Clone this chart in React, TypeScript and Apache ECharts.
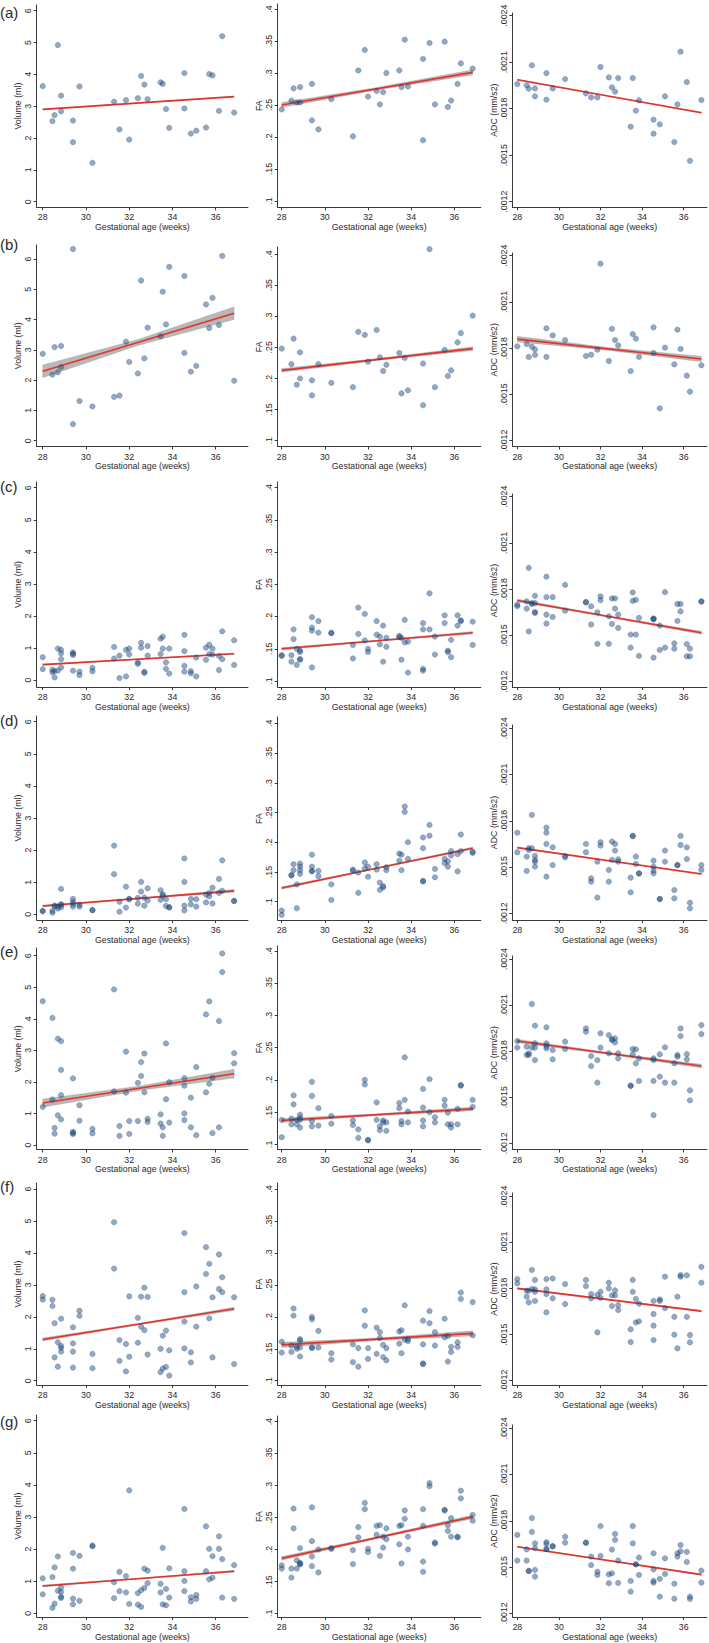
import React, { useEffect, useRef } from "react";
import * as echarts from "echarts";

// ---------- DATA ----------
// gestational ages (weeks) of the 32 subjects, shared by all panels
const ages = [28.0, 28.45, 28.55, 28.7, 28.85, 28.85, 29.4, 29.4, 29.7, 30.3, 31.3, 31.55, 31.85, 32.0, 32.4, 32.55, 32.7, 32.85, 33.45, 33.55, 33.7, 33.85, 34.55, 34.55, 34.85, 35.1, 35.55, 35.7, 35.85, 36.15, 36.3, 36.85];

const xTicks = [28, 30, 32, 34, 36];
const volTicks = [0, 1, 2, 3, 4, 5, 6];
const faTicks = [0.1, 0.15, 0.2, 0.25, 0.3, 0.35, 0.4];
const adcTicks = [0.0012, 0.0015, 0.0018, 0.0021, 0.0024];
const rowLetters = ["(a)", "(b)", "(c)", "(d)", "(e)", "(f)", "(g)"];
const xTitle = "Gestational age (weeks)";
const yTitles = { vol: "Volume (ml)", fa: "FA", adc: "ADC (mm/s2)" };

// rows (a), (b): one value per subject
const volA = [3.63, 2.53, 2.72, 4.92, 3.33, 2.84, 2.55, 1.87, 3.62, 1.22, 3.14, 2.27, 3.19, 1.95, 3.25, 3.95, 3.68, 3.22, 3.75, 3.70, 2.91, 2.32, 4.04, 2.93, 2.14, 2.23, 2.33, 4.01, 3.97, 2.85, 5.20, 2.80];
const faA = [0.243, 0.257, 0.276, 0.254, 0.254, 0.278, 0.283, 0.226, 0.212, 0.259, 0.201, 0.304, 0.336, 0.263, 0.272, 0.251, 0.270, 0.300, 0.304, 0.278, 0.352, 0.279, 0.322, 0.195, 0.347, 0.251, 0.349, 0.247, 0.257, 0.283, 0.315, 0.307];
const adcA = [0.001959, 0.001951, 0.001929, 0.002080, 0.001880, 0.001931, 0.002030, 0.001858, 0.001931, 0.001991, 0.001899, 0.001873, 0.001873, 0.002069, 0.002002, 0.001938, 0.001910, 0.001998, 0.001684, 0.001998, 0.001787, 0.001854, 0.001729, 0.001639, 0.001699, 0.001880, 0.001585, 0.001828, 0.002168, 0.001972, 0.001464, 0.001856];

const volB = [2.87, 2.18, 3.09, 2.26, 3.13, 2.43, 6.33, 0.55, 1.31, 1.13, 1.45, 1.49, 3.27, 2.60, 2.22, 5.29, 2.72, 3.73, 3.45, 4.92, 3.84, 5.74, 5.44, 2.90, 2.28, 2.47, 4.50, 3.72, 4.72, 3.82, 6.10, 1.98];
const faB = [0.248, 0.223, 0.264, 0.190, 0.200, 0.242, 0.197, 0.173, 0.223, 0.193, 0.186, 0.275, 0.270, 0.227, 0.278, 0.234, 0.212, 0.222, 0.241, 0.176, 0.233, 0.181, 0.224, 0.157, 0.408, 0.186, 0.246, 0.204, 0.213, 0.258, 0.273, 0.301];
const adcB = [0.001812, 0.001827, 0.001743, 0.001810, 0.001792, 0.001756, 0.001929, 0.001743, 0.001883, 0.001853, 0.001749, 0.001758, 0.001790, 0.002348, 0.001717, 0.001926, 0.001853, 0.001818, 0.001652, 0.001892, 0.001862, 0.001743, 0.001935, 0.001769, 0.001410, 0.001803, 0.001695, 0.001920, 0.001795, 0.001622, 0.001518, 0.001689];

// rows (c)-(g): two values (left / right) per subject
const volC = [[0.71, 0.34], [0.32, 0.24], [0.28, 0.08], [0.98, 0.29], [0.94, 0.39], [0.83, 0.65], [0.86, 0.29], [0.82, 0.78], [0.26, 0.15], [0.38, 0.27], [1.03, 0.67], [0.76, 0.06], [0.94, 0.11], [0.98, 0.80], [0.55, 0.50], [1.16, 1.01], [0.26, 0.22], [1.06, 0.76], [1.29, 0.81], [1.35, 0.98], [0.55, 0.35], [0.98, 0.20], [1.41, 0.26], [0.90, 0.44], [0.28, 0.21], [0.70, 0.11], [1.01, 0.63], [1.10, 0.81], [0.98, 0.79], [0.75, 0.31], [1.52, 0.65], [1.24, 0.47]];
const faC = [[0.140, 0.139], [0.140, 0.130], [0.180, 0.165], [0.150, 0.125], [0.147, 0.134], [0.145, 0.133], [0.199, 0.121], [0.183, 0.178], [0.193, 0.175], [0.175, 0.174], [0.156, 0.135], [0.214, 0.173], [0.204, 0.163], [0.150, 0.145], [0.193, 0.172], [0.169, 0.157], [0.186, 0.130], [0.167, 0.153], [0.170, 0.168], [0.167, 0.133], [0.195, 0.160], [0.161, 0.113], [0.190, 0.119], [0.180, 0.116], [0.236, 0.180], [0.169, 0.141], [0.202, 0.190], [0.147, 0.145], [0.164, 0.137], [0.202, 0.186], [0.194, 0.193], [0.192, 0.156]];
const adcC = [[0.001700, 0.001690], [0.001721, 0.001674], [0.001939, 0.001526], [0.001710, 0.001704], [0.001757, 0.001652], [0.001710, 0.001646], [0.001881, 0.001635], [0.001749, 0.001577], [0.001749, 0.001620], [0.001828, 0.001661], [0.001716, 0.001715], [0.001689, 0.001571], [0.001650, 0.001446], [0.001753, 0.001729], [0.001624, 0.001446], [0.001740, 0.001575], [0.001740, 0.001674], [0.001635, 0.001549], [0.001506, 0.001421], [0.001779, 0.001725], [0.001731, 0.001506], [0.001614, 0.001367], [0.001610, 0.001356], [0.001605, 0.001607], [0.001564, 0.001406], [0.001781, 0.001421], [0.001449, 0.001414], [0.001704, 0.001594], [0.001704, 0.001656], [0.001444, 0.001365], [0.001414, 0.001365], [0.001721, 0.001720]];

const volD = [[0.10, 0.10], [0.11, 0.05], [0.27, 0.25], [0.18, 0.24], [0.79, 0.22], [0.29, 0.32], [0.48, 0.32], [0.39, 0.24], [0.30, 0.24], [0.13, 0.13], [2.14, 1.25], [0.39, 0.08], [0.86, 0.21], [0.48, 0.47], [0.51, 0.33], [1.01, 0.71], [0.52, 0.27], [0.81, 0.43], [0.75, 0.45], [0.62, 0.58], [0.47, 0.26], [0.22, 0.21], [1.74, 0.27], [1.01, 0.12], [0.48, 0.31], [0.47, 0.24], [0.61, 0.37], [0.67, 0.56], [0.83, 0.34], [1.10, 0.67], [1.68, 0.73], [0.42, 0.41]];
const faD = [[0.085, 0.078], [0.145, 0.144], [0.163, 0.153], [0.129, 0.089], [0.164, 0.153], [0.159, 0.147], [0.179, 0.152], [0.159, 0.151], [0.152, 0.143], [0.129, 0.103], [0.154, 0.152], [0.149, 0.115], [0.166, 0.156], [0.159, 0.142], [0.163, 0.154], [0.132, 0.120], [0.126, 0.124], [0.158, 0.153], [0.181, 0.169], [0.179, 0.153], [0.260, 0.251], [0.200, 0.172], [0.208, 0.135], [0.190, 0.134], [0.229, 0.211], [0.155, 0.141], [0.172, 0.165], [0.168, 0.159], [0.185, 0.178], [0.180, 0.151], [0.213, 0.185], [0.184, 0.182]];
const adcD = [[0.001723, 0.001596], [0.001568, 0.001475], [0.001622, 0.001611], [0.001838, 0.001622], [0.001572, 0.001535], [0.001546, 0.001503], [0.001756, 0.001650], [0.001723, 0.001438], [0.001628, 0.001513], [0.001572, 0.001563], [0.001650, 0.001596], [0.001427, 0.001405], [0.001535, 0.001302], [0.001661, 0.001639], [0.001481, 0.001405], [0.001665, 0.001546], [0.001650, 0.001607], [0.001550, 0.001535], [0.001431, 0.001336], [0.001702, 0.001701], [0.001568, 0.001520], [0.001459, 0.001458], [0.001542, 0.001477], [0.001503, 0.001459], [0.001293, 0.001292], [0.001607, 0.001535], [0.001351, 0.001297], [0.001513, 0.001512], [0.001702, 0.001643], [0.001628, 0.001552], [0.001269, 0.001232], [0.001513, 0.001481]];

const volE = [[4.56, 1.21], [4.03, 1.44], [0.54, 0.36], [3.37, 0.94], [3.29, 1.58], [2.38, 0.81], [2.11, 0.38], [0.42, 0.35], [1.26, 0.77], [0.51, 0.37], [4.93, 1.70], [0.60, 0.29], [2.96, 1.66], [0.76, 0.35], [1.97, 0.76], [2.63, 2.19], [2.90, 1.67], [0.83, 0.73], [0.97, 0.68], [0.56, 0.29], [3.22, 1.45], [1.99, 0.71], [2.12, 1.00], [1.88, 0.79], [1.50, 0.56], [2.47, 0.31], [4.14, 1.67], [4.55, 1.94], [2.13, 0.38], [3.93, 0.56], [6.07, 5.48], [2.91, 2.59]];
const faE = [[0.138, 0.111], [0.140, 0.131], [0.176, 0.162], [0.138, 0.131], [0.146, 0.138], [0.141, 0.126], [0.197, 0.136], [0.175, 0.128], [0.156, 0.129], [0.144, 0.132], [0.137, 0.130], [0.123, 0.110], [0.200, 0.193], [0.107, 0.106], [0.165, 0.138], [0.128, 0.122], [0.137, 0.134], [0.134, 0.121], [0.164, 0.156], [0.136, 0.131], [0.235, 0.169], [0.151, 0.134], [0.186, 0.137], [0.157, 0.128], [0.201, 0.150], [0.142, 0.134], [0.169, 0.160], [0.149, 0.131], [0.131, 0.126], [0.155, 0.131], [0.192, 0.191], [0.169, 0.158]];
const adcE = [[0.001866, 0.001823], [0.001829, 0.001775], [0.001786, 0.001775], [0.002107, 0.001823], [0.001966, 0.001823], [0.001851, 0.001742], [0.001955, 0.001833], [0.001851, 0.001818], [0.001807, 0.001747], [0.001862, 0.001814], [0.001948, 0.001927], [0.001768, 0.001703], [0.001742, 0.001595], [0.001916, 0.001823], [0.001905, 0.001786], [0.001879, 0.001872], [0.001883, 0.001857], [0.001786, 0.001753], [0.001575, 0.001574], [0.001814, 0.001779], [0.001812, 0.001721], [0.001753, 0.001606], [0.001753, 0.001606], [0.001742, 0.001384], [0.001779, 0.001634], [0.001825, 0.001595], [0.001721, 0.001595], [0.001775, 0.001764], [0.001948, 0.001898], [0.001781, 0.001747], [0.001545, 0.001480], [0.001970, 0.001911]];

const volF = [[2.65, 2.54], [2.53, 2.34], [1.80, 0.73], [1.20, 0.44], [1.94, 1.03], [1.09, 0.91], [1.67, 0.91], [1.17, 0.41], [2.19, 2.03], [0.84, 0.39], [4.96, 3.51], [1.27, 0.62], [1.15, 0.29], [2.64, 0.75], [1.97, 1.19], [2.63, 1.69], [2.91, 1.58], [2.62, 0.82], [1.00, 0.27], [1.41, 0.38], [1.57, 0.43], [0.95, 0.16], [4.62, 1.85], [2.77, 1.01], [0.89, 0.57], [2.95, 1.69], [4.18, 3.34], [3.66, 1.95], [2.61, 0.73], [3.95, 2.87], [3.24, 2.77], [2.61, 0.52]];
const faF = [[0.161, 0.144], [0.155, 0.145], [0.213, 0.202], [0.153, 0.150], [0.165, 0.152], [0.163, 0.138], [0.200, 0.152], [0.196, 0.151], [0.178, 0.152], [0.143, 0.133], [0.157, 0.129], [0.151, 0.122], [0.210, 0.186], [0.151, 0.134], [0.183, 0.142], [0.176, 0.167], [0.156, 0.137], [0.151, 0.132], [0.177, 0.158], [0.179, 0.143], [0.218, 0.164], [0.165, 0.162], [0.194, 0.126], [0.157, 0.127], [0.209, 0.190], [0.176, 0.155], [0.197, 0.168], [0.170, 0.130], [0.153, 0.145], [0.160, 0.153], [0.238, 0.228], [0.223, 0.171]];
const adcF = [[0.001863, 0.001835], [0.001787, 0.001748], [0.001787, 0.001711], [0.001922, 0.001798], [0.001857, 0.001780], [0.001796, 0.001720], [0.001863, 0.001765], [0.001796, 0.001646], [0.001867, 0.001737], [0.001830, 0.001700], [0.001857, 0.001817], [0.001765, 0.001737], [0.001759, 0.001515], [0.001780, 0.001741], [0.001839, 0.001802], [0.001757, 0.001687], [0.001789, 0.001757], [0.001693, 0.001661], [0.001535, 0.001452], [0.001857, 0.001780], [0.001733, 0.001580], [0.001702, 0.001587], [0.001720, 0.001559], [0.001635, 0.001465], [0.001730, 0.001720], [0.001878, 0.001674], [0.001617, 0.001500], [0.001748, 0.001411], [0.001889, 0.001878], [0.001887, 0.001617], [0.001498, 0.001450], [0.001943, 0.001839]];

const volG = [[1.09, 0.59], [1.13, 0.17], [1.43, 0.30], [1.77, 0.70], [0.80, 0.48], [0.67, 0.52], [1.88, 0.46], [1.39, 0.28], [1.79, 0.39], [2.11, 2.09], [0.97, 0.47], [1.29, 0.69], [1.16, 0.65], [3.83, 0.29], [0.63, 0.27], [0.72, 0.20], [1.39, 0.79], [1.33, 0.94], [0.92, 0.65], [2.04, 0.28], [0.76, 0.25], [1.40, 0.49], [3.25, 1.01], [1.31, 0.69], [0.50, 0.37], [0.57, 0.45], [2.71, 1.31], [2.01, 1.06], [1.78, 1.11], [2.40, 2.01], [1.69, 0.49], [1.50, 0.45]];
const faG = [[0.175, 0.170], [0.170, 0.156], [0.264, 0.233], [0.183, 0.170], [0.202, 0.177], [0.179, 0.177], [0.266, 0.189], [0.213, 0.174], [0.200, 0.164], [0.202, 0.201], [0.199, 0.177], [0.235, 0.219], [0.273, 0.263], [0.201, 0.196], [0.237, 0.223], [0.238, 0.190], [0.220, 0.203], [0.233, 0.216], [0.237, 0.208], [0.238, 0.178], [0.261, 0.248], [0.220, 0.200], [0.263, 0.181], [0.237, 0.165], [0.304, 0.299], [0.211, 0.209], [0.262, 0.261], [0.238, 0.229], [0.249, 0.220], [0.220, 0.219], [0.292, 0.280], [0.254, 0.245]];
const adcG = [[0.001708, 0.001542], [0.001615, 0.001542], [0.001475, 0.001474], [0.001818, 0.001728], [0.001654, 0.001481], [0.001622, 0.001438], [0.001661, 0.001617], [0.001650, 0.001616], [0.001635, 0.001634], [0.001697, 0.001658], [0.001658, 0.001657], [0.001568, 0.001513], [0.001470, 0.001449], [0.001766, 0.001572], [0.001453, 0.001395], [0.001613, 0.001459], [0.001715, 0.001676], [0.001542, 0.001397], [0.001410, 0.001341], [0.001766, 0.001654], [0.001518, 0.001517], [0.001561, 0.001449], [0.001589, 0.001410], [0.001485, 0.001399], [0.001423, 0.001308], [0.001557, 0.001455], [0.001392, 0.001295], [0.001589, 0.001568], [0.001643, 0.001602], [0.001598, 0.001533], [0.001308, 0.001293], [0.001477, 0.001399]];

// fitted line: value at first and last age; CI half-widths at first age, mid age, last age
const fitAges = [28, 32.4, 36.85];
const fitVolA = [2.90, 3.30]; const ciVolA = [0.012, 0.006, 0.012];
const fitFaA = [0.250, 0.301]; const ciFaA = [0.004, 0.002, 0.004];
const fitAdcA = [0.001987, 0.001774]; const ciAdcA = [0.000004, 0.000002, 0.000004];
const fitVolB = [2.29, 4.21]; const ciVolB = [0.21, 0.10, 0.21];
const fitFaB = [0.213, 0.248]; const ciFaB = [0.003, 0.0015, 0.003];
const fitAdcB = [0.001859, 0.001730]; const ciAdcB = [0.000018, 0.000009, 0.000018];
const fitVolC = [0.48, 0.82]; const ciVolC = [0.02, 0.01, 0.02];
const fitFaC = [0.150, 0.175]; const ciFaC = [0.002, 0.001, 0.002];
const fitAdcC = [0.001727, 0.001517]; const ciAdcC = [0.000009, 0.000005, 0.00001];
const fitVolD = [0.26, 0.73]; const ciVolD = [0.03, 0.015, 0.04];
const fitFaD = [0.123, 0.190]; const ciFaD = [0.002, 0.001, 0.002];
const fitAdcD = [0.001626, 0.001455]; const ciAdcD = [0.000004, 0.000002, 0.000004];
const fitVolE = [1.33, 2.26]; const ciVolE = [0.13, 0.07, 0.14];
const fitFaE = [0.137, 0.155]; const ciFaE = [0.003, 0.0015, 0.003];
const fitAdcE = [0.001866, 0.001703]; const ciAdcE = [0.000012, 0.000006, 0.000012];
const fitVolF = [1.29, 2.25]; const ciVolF = [0.05, 0.025, 0.05];
const fitFaF = [0.156, 0.174]; const ciFaF = [0.004, 0.002, 0.004];
const fitAdcF = [0.001802, 0.001654]; const ciAdcF = [0.000005, 0.0000025, 0.000005];
const fitVolG = [0.85, 1.31]; const ciVolG = [0.03, 0.015, 0.03];
const fitFaG = [0.186, 0.251]; const ciFaG = [0.003, 0.0015, 0.003];
const fitAdcG = [0.001632, 0.001451]; const ciAdcG = [0.000004, 0.000002, 0.000004];

// ---------- LAYOUT (pixels) ----------
const COLS = [
  { left: 36.7, x28: 42.7, ppw: 21.63, right: 248 },
  { left: 277.7, x28: 281.7, ppw: 21.58, right: 480.7 },
  { left: 512.3, x28: 517.3, ppw: 20.8, right: 707 },
];
// per row: x-axis line y, letter y, per column [y of lowest tick, y of highest tick, axis top]
const ROWS = [
  { axisY: 207.3, letterY: 13.5, p: [[201.7, 10.7, 5], [201, 9, 4], [201.7, 15.7, 13]] },
  { axisY: 446.5, letterY: 246, p: [[440.7, 259, 245], [440.7, 254, 247], [440.7, 255.7, 253]] },
  { axisY: 687, letterY: 488, p: [[680, 487.7, 482], [681, 487.7, 482], [681.7, 496.7, 494]] },
  { axisY: 920, letterY: 721.7, p: [[914.3, 721.7, 716], [901.7, 723.3, 717], [913.3, 728.3, 725]] },
  { axisY: 1149.5, letterY: 953, p: [[1145, 955.7, 948], [1144.3, 951, 946], [1143.3, 959, 956]] },
  { axisY: 1385, letterY: 1188, p: [[1380.7, 1189, 1183], [1380.7, 1189, 1183], [1380.7, 1196.7, 1193]] },
  { axisY: 1617, letterY: 1422.7, p: [[1613.3, 1420.7, 1415], [1613.3, 1421.7, 1416], [1613.3, 1428.3, 1425]] },
];

const FONT = "'Liberation Sans', Arial, Helvetica, sans-serif";
const TEXT = "#2a2a2a";
const AXIS = "#3a3a3a";

type Kind = "vol" | "fa" | "adc";
const TICKS: Record<Kind, number[]> = { vol: volTicks, fa: faTicks, adc: adcTicks };

const single = (vals: number[]) => vals.map((v, i) => [ages[i], v]);
const paired = (pairs: number[][]) => [
  ...pairs.map((p, i) => [ages[i], p[0]]),
  ...pairs.map((p, i) => [ages[i], p[1]]),
];

const PANELS: { kind: Kind; pts: number[][]; fit: number[]; ci: number[] }[][] = [
  [{ kind: "vol", pts: single(volA), fit: fitVolA, ci: ciVolA }, { kind: "fa", pts: single(faA), fit: fitFaA, ci: ciFaA }, { kind: "adc", pts: single(adcA), fit: fitAdcA, ci: ciAdcA }],
  [{ kind: "vol", pts: single(volB), fit: fitVolB, ci: ciVolB }, { kind: "fa", pts: single(faB), fit: fitFaB, ci: ciFaB }, { kind: "adc", pts: single(adcB), fit: fitAdcB, ci: ciAdcB }],
  [{ kind: "vol", pts: paired(volC), fit: fitVolC, ci: ciVolC }, { kind: "fa", pts: paired(faC), fit: fitFaC, ci: ciFaC }, { kind: "adc", pts: paired(adcC), fit: fitAdcC, ci: ciAdcC }],
  [{ kind: "vol", pts: paired(volD), fit: fitVolD, ci: ciVolD }, { kind: "fa", pts: paired(faD), fit: fitFaD, ci: ciFaD }, { kind: "adc", pts: paired(adcD), fit: fitAdcD, ci: ciAdcD }],
  [{ kind: "vol", pts: paired(volE), fit: fitVolE, ci: ciVolE }, { kind: "fa", pts: paired(faE), fit: fitFaE, ci: ciFaE }, { kind: "adc", pts: paired(adcE), fit: fitAdcE, ci: ciAdcE }],
  [{ kind: "vol", pts: paired(volF), fit: fitVolF, ci: ciVolF }, { kind: "fa", pts: paired(faF), fit: fitFaF, ci: ciFaF }, { kind: "adc", pts: paired(adcF), fit: fitAdcF, ci: ciAdcF }],
  [{ kind: "vol", pts: paired(volG), fit: fitVolG, ci: ciVolG }, { kind: "fa", pts: paired(faG), fit: fitFaG, ci: ciFaG }, { kind: "adc", pts: paired(adcG), fit: fitAdcG, ci: ciAdcG }],
];

const fmt = (v: number) => {
  const s = String(parseFloat(Number(v).toPrecision(6)));
  return s.replace(/^0\./, ".");
};

function buildOption() {
  const grid: any[] = [];
  const xAxis: any[] = [];
  const yAxis: any[] = [];
  const series: any[] = [];
  const graphic: any[] = [];
  let idx = 0;
  PANELS.forEach((rowPanels, r) => {
    const row = ROWS[r];
    graphic.push({
      type: "text",
      left: 0,
      top: row.letterY - 9,
      style: { text: rowLetters[r], fontSize: 15, fontFamily: FONT, fill: TEXT },
    });
    rowPanels.forEach((panel, c) => {
      const col = COLS[c];
      const [lowY, highY, topY] = row.p[c];
      const ticks = TICKS[panel.kind];
      const t0 = ticks[0];
      const t1 = ticks[ticks.length - 1];
      const ppu = (lowY - highY) / (t1 - t0);
      const yMin = t0 - (row.axisY - lowY) / ppu;
      const yMax = t1 + (highY - topY) / ppu;
      const xMin = 28 - (col.x28 - col.left) / col.ppw;
      const xMax = 28 + (col.right - col.x28) / col.ppw;
      grid.push({ left: col.left, top: topY, width: col.right - col.left, height: row.axisY - topY });
      xAxis.push({
        type: "value",
        gridIndex: idx,
        min: xMin,
        max: xMax,
        name: xTitle,
        nameLocation: "middle",
        nameGap: 14,
        nameTextStyle: { fontSize: 8.8, fontFamily: FONT, color: TEXT },
        axisLine: { onZero: false, lineStyle: { color: AXIS, width: 1 } },
        axisTick: { customValues: xTicks, length: 3, lineStyle: { color: AXIS } },
        axisLabel: { customValues: xTicks, margin: 5.5, fontSize: 8.8, fontFamily: FONT, color: TEXT },
        splitLine: { show: false },
      });
      yAxis.push({
        type: "value",
        gridIndex: idx,
        min: yMin,
        max: yMax,
        name: yTitles[panel.kind],
        nameLocation: "middle",
        nameRotate: 90,
        nameGap: 13,
        nameTextStyle: { fontSize: 8.8, fontFamily: FONT, color: TEXT },
        axisLine: { show: true, onZero: false, lineStyle: { color: AXIS, width: 1 } },
        axisTick: { show: true, customValues: ticks, length: 3, lineStyle: { color: AXIS } },
        axisLabel: {
          customValues: ticks,
          rotate: 90,
          margin: 4,
          fontSize: 8.8,
          fontFamily: FONT,
          color: TEXT,
          formatter: (v: number) => fmt(v),
        },
        splitLine: { show: false },
      });
      const [fs, fe] = panel.fit;
      const xs = fitAges;
      const slope = (fe - fs) / (xs[2] - xs[0]);
      const band = xs.map((x, k) => {
        const m = fs + slope * (x - xs[0]);
        return [x, m - panel.ci[k], m + panel.ci[k]];
      });
      series.push({
        type: "custom",
        xAxisIndex: idx,
        yAxisIndex: idx,
        silent: true,
        z: 1,
        data: band,
        encode: { x: 0, y: [1, 2] },
        renderItem: (params: any, api: any) => {
          if (params.dataIndex !== 0) return null;
          const up = band.map((b) => api.coord([b[0], b[2]]));
          const lo = band.map((b) => api.coord([b[0], b[1]])).reverse();
          return {
            type: "polygon",
            shape: { points: [...up, ...lo] },
            style: { fill: "rgba(125,125,125,0.55)", stroke: "rgba(110,110,110,0.35)", lineWidth: 0.5 },
          };
        },
      });
      series.push({
        type: "line",
        xAxisIndex: idx,
        yAxisIndex: idx,
        silent: true,
        z: 2,
        symbol: "none",
        data: [[xs[0], fs], [xs[2], fe]],
        lineStyle: { color: "#e5322a", width: 1.6 },
      });
      series.push({
        type: "scatter",
        xAxisIndex: idx,
        yAxisIndex: idx,
        silent: true,
        z: 3,
        symbol: "circle",
        symbolSize: 5.5,
        data: panel.pts,
        itemStyle: { color: "rgba(30,75,130,0.6)", borderColor: "rgba(20,55,100,0.55)", borderWidth: 0.5 },
      });
      idx++;
    });
  });
  return { animation: false, backgroundColor: "#ffffff", grid, xAxis, yAxis, series, graphic };
}

export default function App() {
  const ref = useRef<HTMLDivElement>(null);
  useEffect(() => {
    if (!ref.current) return;
    const chart = echarts.init(ref.current, undefined, { renderer: "svg" });
    chart.setOption(buildOption() as any);
    return () => chart.dispose();
  }, []);
  return <div ref={ref} style={{ position: "absolute", left: 0, top: 0, width: 709, height: 1643, background: "#fff" }} />;
}
